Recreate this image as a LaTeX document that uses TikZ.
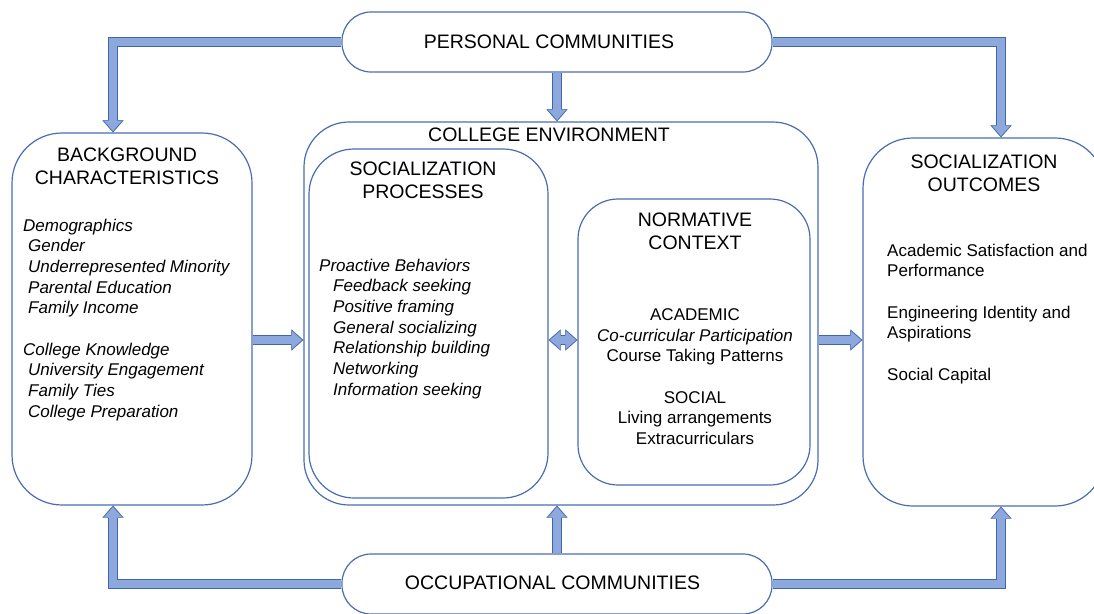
\documentclass[tikz,border=0pt]{standalone}
\usepackage{fontspec}
\setmainfont{Liberation Sans}
\usetikzlibrary{arrows.meta,positioning,calc}

\definecolor{boxblue}{RGB}{74,108,178}
\definecolor{arrowfill}{RGB}{140,168,220}
\definecolor{arrowedge}{RGB}{66,100,170}

\newcommand{\headsize}{\fontsize{19.5}{23}\selectfont}
\newcommand{\bodysize}{\fontsize{17}{20.7}\selectfont}

\tikzset{
  roundbox/.style={draw=boxblue, line width=1.2pt, rounded corners=#1, inner sep=0pt},
  pill/.style={draw=boxblue, line width=1.2pt, rounded corners=29pt, minimum width=430pt, minimum height=60pt},
  headtxt/.style={font=\headsize, align=center, inner sep=0pt},
  bodytxt/.style={font=\bodysize, align=left, anchor=north west, inner sep=0pt},
  fatarrow/.style={draw=arrowfill, line width=7.5pt, shorten >=1.4pt,
    -{Triangle[length=10pt,width=17.5pt,line width=0.1pt]},
    preaction={draw=arrowedge, line width=9.8pt, shorten >=0pt,
      -{Triangle[length=12pt,width=21pt,line width=0.1pt]}}},
  fatboth/.style={draw=arrowfill, line width=7.5pt, shorten >=1.4pt, shorten <=1.4pt,
    {Triangle[length=10pt,width=17.5pt,line width=0.1pt]}-{Triangle[length=10pt,width=17.5pt,line width=0.1pt]},
    preaction={draw=arrowedge, line width=9.8pt, shorten >=0pt, shorten <=0pt,
      {Triangle[length=12pt,width=21pt,line width=0.1pt]}-{Triangle[length=12pt,width=21pt,line width=0.1pt]}}}
}

\begin{document}
\begin{tikzpicture}[x=1pt, y=-1pt]
    \useasboundingbox (0,0) rectangle (1094,613);

    % Community pills
    \node[pill] (personal) at (557,42) {};
    \node[headtxt] (personaltxt) at (549,42) {PERSONAL COMMUNITIES};
    \node[pill] (occ) at (557,584) {};
    \node[headtxt] (occtxt) at (552.5,583) {OCCUPATIONAL COMMUNITIES};

    % Background box
    \node[roundbox=50pt, minimum width=240pt, minimum height=372pt] (bg) at (132,319) {};
    \node[headtxt] (bghead) at (127,166) {BACKGROUND\\CHARACTERISTICS};
    \node[bodytxt, font=\bodysize\itshape] (bgbody) at (23,218.5) {Demographics\\
        \hspace*{5pt}Gender\\
        \hspace*{5pt}Underrepresented Minority\\
        \hspace*{5pt}Parental Education\\
        \hspace*{5pt}Family Income\\[20.7pt]
        College Knowledge\\
        \hspace*{5pt}University Engagement\\
        \hspace*{5pt}Family Ties\\
        \hspace*{5pt}College Preparation};

    % College environment with its two inner boxes
    \node[roundbox=45pt, minimum width=514pt, minimum height=383pt] (college) at (561,313.5) {};
    \node[headtxt] (collegehead) at (549,135) {COLLEGE ENVIRONMENT};

    \node[roundbox=45pt, minimum width=239pt, minimum height=349pt] (proc) at (428.5,323.5) {};
    \node[headtxt] (prochead) at (423,180) {SOCIALIZATION\\PROCESSES};
    \node[bodytxt, font=\bodysize\itshape] (procbody) at (319,258.5) {Proactive Behaviors\\
        \hspace*{14pt}Feedback seeking\\
        \hspace*{14pt}Positive framing\\
        \hspace*{14pt}General socializing\\
        \hspace*{14pt}Relationship building\\
        \hspace*{14pt}Networking\\
        \hspace*{14pt}Information seeking};

    \node[roundbox=40pt, minimum width=232pt, minimum height=286pt] (norm) at (694,342) {};
    \node[headtxt] (normhead) at (695,231.5) {NORMATIVE\\CONTEXT};
    \node[bodytxt, align=center, anchor=north] (normbody) at (695,308.5) {ACADEMIC\\
        \textit{Co-curricular Participation}\\
        Course Taking Patterns\\[20.5pt]
        SOCIAL\\
        Living arrangements\\
        Extracurriculars};

    % Outcomes box
    \node[roundbox=50pt, minimum width=242pt, minimum height=368pt] (outc) at (984,322) {};
    \node[headtxt] (outchead) at (984,173.5) {SOCIALIZATION\\OUTCOMES};
    \node[bodytxt] (outcbody) at (887,243.5) {Academic Satisfaction and\\
        Performance\\[20.7pt]
        Engineering Identity and\\
        Aspirations\\[20.7pt]
        Social Capital};

    % Arrows
    \coordinate (midline) at (0,340);
    \draw[fatarrow] (personal.west) -| ([xshift=-19pt]bg.north);
    \draw[fatarrow] (personal.east) -| ([xshift=17pt]outc.north);
    \draw[fatarrow] (personal.south) -- (personal.south |- college.north);
    \draw[fatarrow] (occ.west) -| ([xshift=-19pt]bg.south);
    \draw[fatarrow] (occ.east) -| ([xshift=17pt]outc.south);
    \draw[fatarrow] (occ.north) -- (occ.north |- college.south);
    \draw[fatarrow] (bg.east |- midline) -- (college.west |- midline);
    \draw[fatboth] (proc.east |- midline) -- (norm.west |- midline);
    \draw[fatarrow] (college.east |- midline) -- (outc.west |- midline);
\end{tikzpicture}
\end{document}
